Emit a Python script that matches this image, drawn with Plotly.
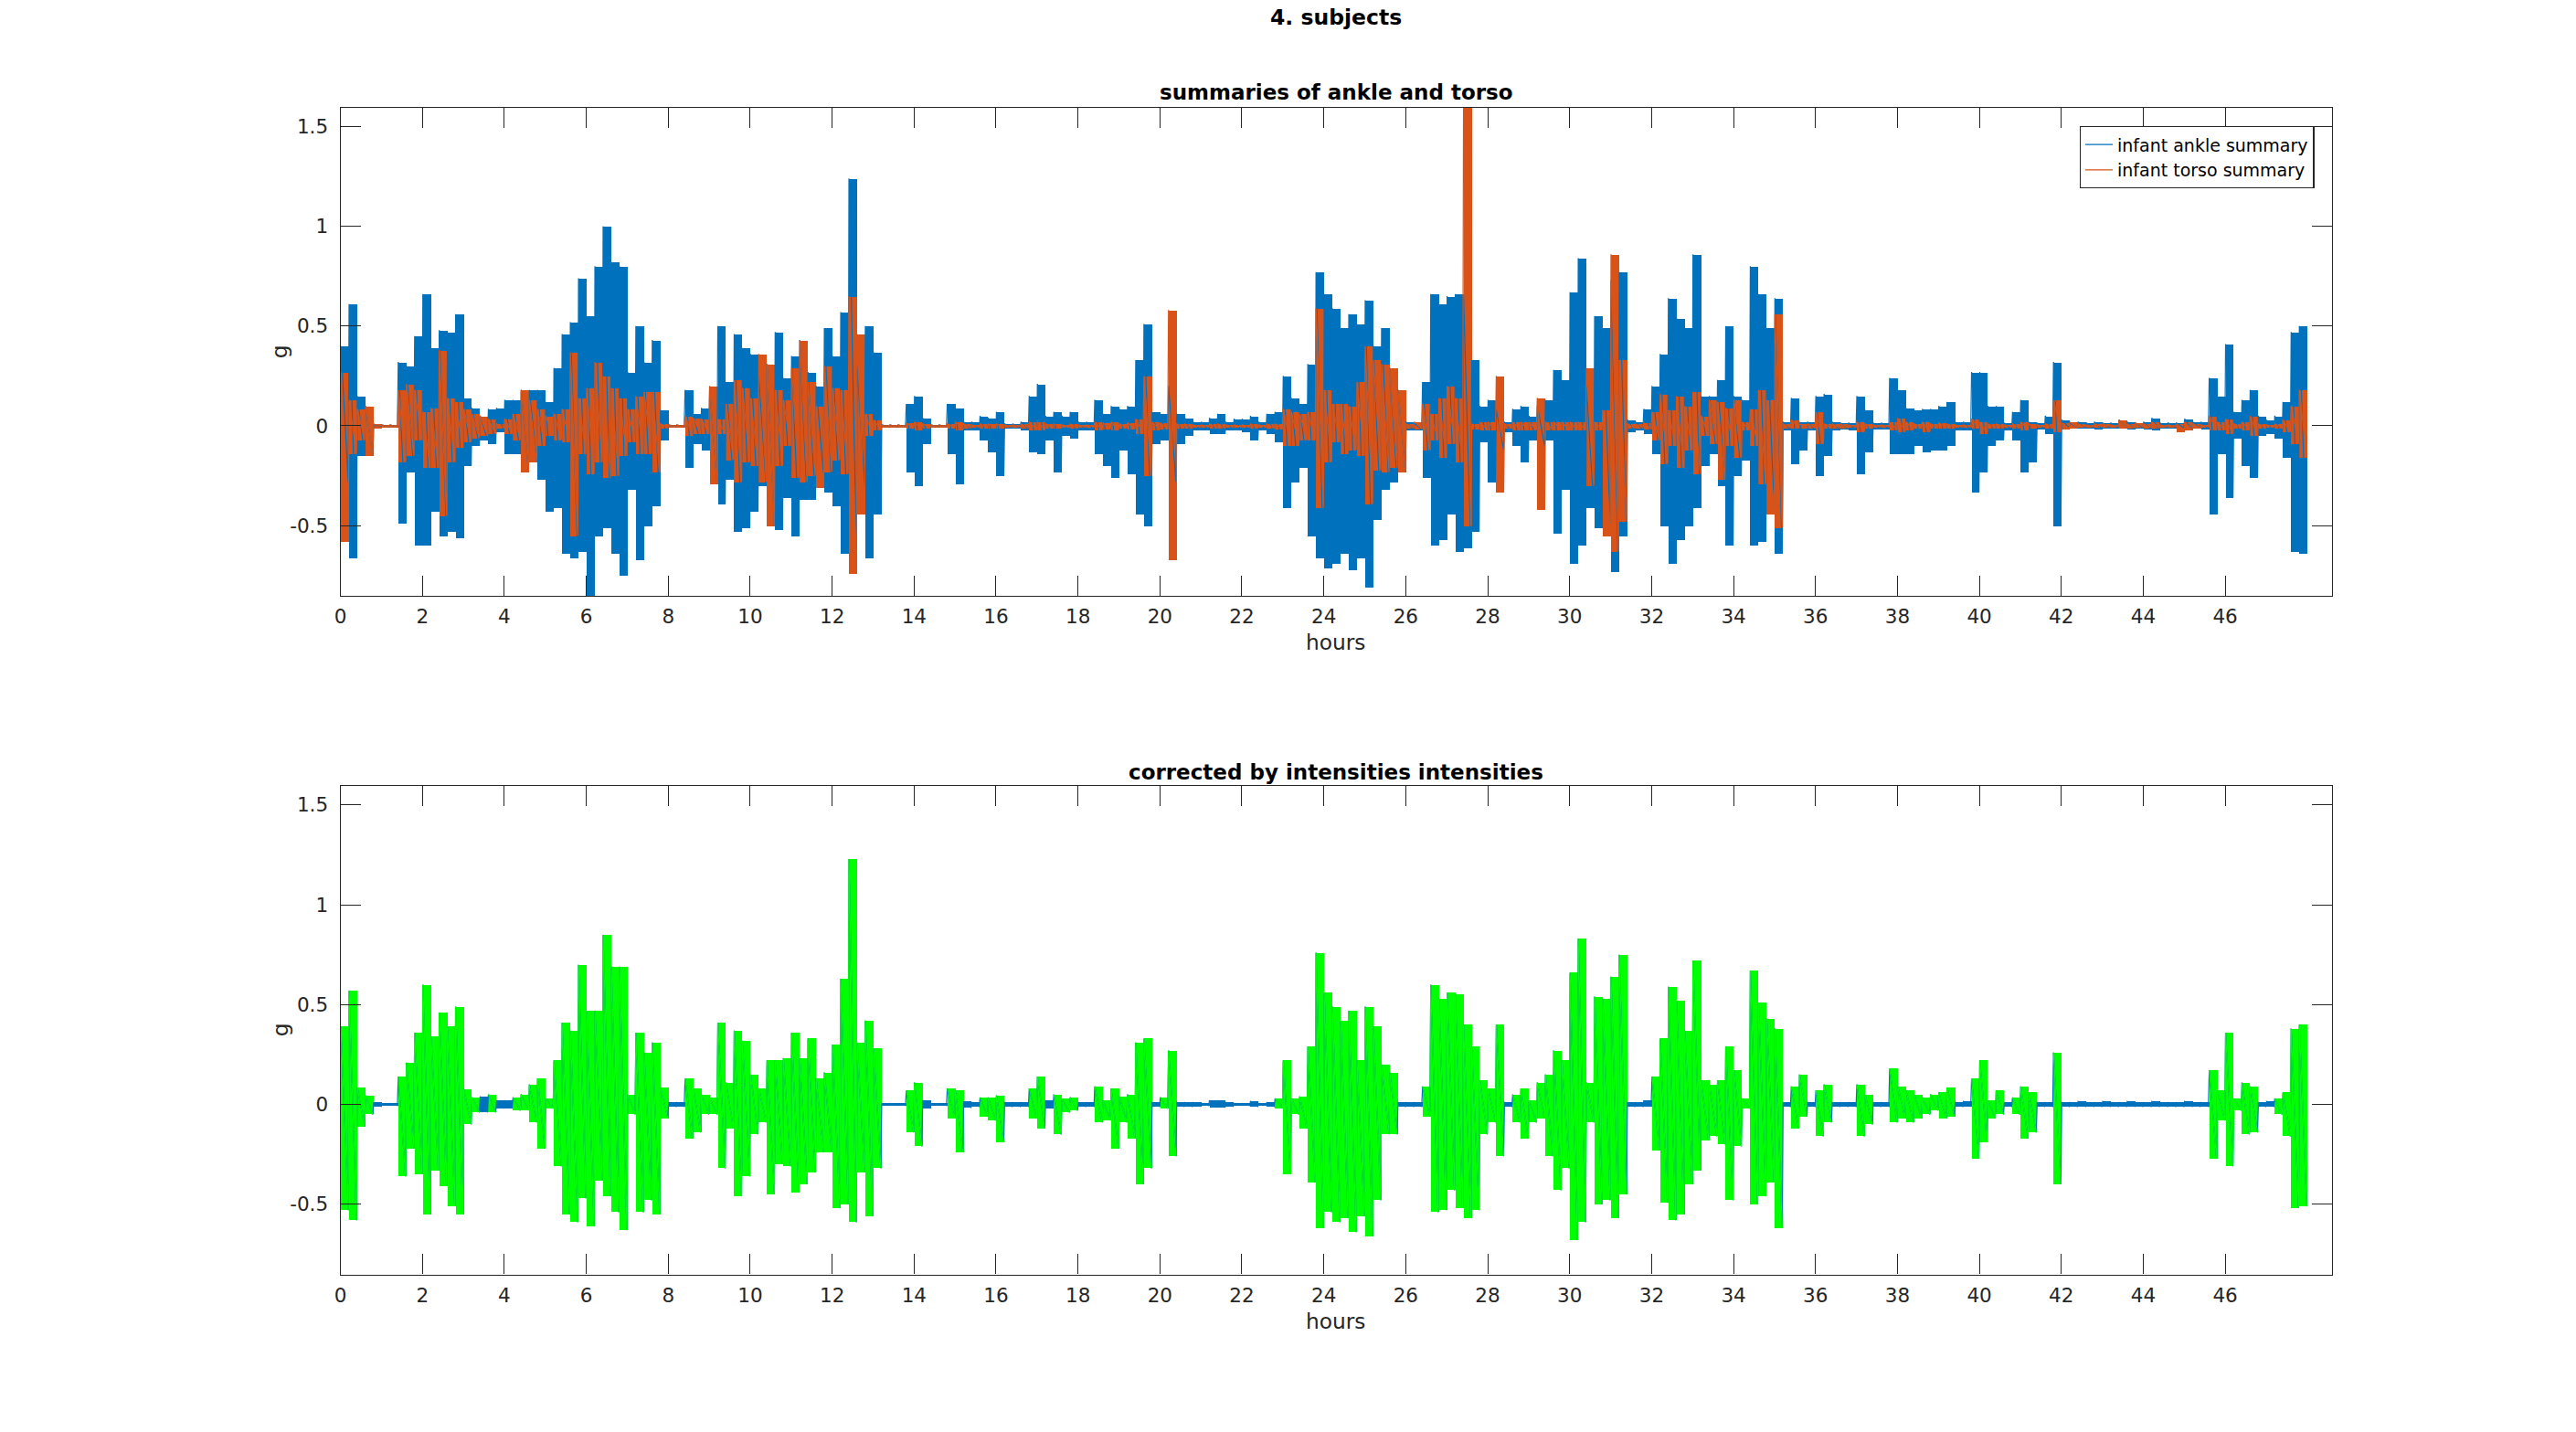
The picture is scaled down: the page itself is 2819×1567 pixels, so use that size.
from plotly import graph_objs as go
import numpy as np

# time bins of 0.2 h, each bin gives the highest and lowest value seen in it
BIN = 0.2
hours_start = np.round(np.arange(240) * BIN, 2)

ankle_hi = [
    0.40, 0.61, 0.15, 0.10, 0.005, 0.005, 0.005, 0.32, 0.30, 0.45,
    0.66, 0.39, 0.48, 0.47, 0.56, 0.14, 0.09, 0.05, 0.085, 0.09,
    0.13, 0.13, 0.18, 0.18, 0.18, 0.12, 0.29, 0.46, 0.52, 0.74,
    0.55, 0.80, 1.00, 0.82, 0.80, 0.27, 0.50, 0.32, 0.43, 0.08,
    0.005, 0.005, 0.18, 0.06, 0.09, 0.19, 0.50, 0.22, 0.46, 0.39,
    0.36, 0.25, 0.31, 0.47, 0.24, 0.35, 0.43, 0.27, 0.20, 0.49,
    0.35, 0.57, 1.24, 0.30, 0.50, 0.37, 0.005, 0.005, 0.005, 0.11,
    0.15, 0.04, 0.005, 0.005, 0.11, 0.09, 0.02, 0.02, 0.05, 0.04,
    0.07, 0.01, 0.01, 0.02, 0.15, 0.21, 0.05, 0.07, 0.05, 0.07,
    0.02, 0.02, 0.13, 0.06, 0.10, 0.085, 0.10, 0.33, 0.51, 0.07,
    0.06, 0.20, 0.06, 0.04, 0.02, 0.02, 0.04, 0.06, 0.02, 0.035,
    0.035, 0.05, 0.02, 0.06, 0.07, 0.25, 0.14, 0.11, 0.31, 0.77,
    0.66, 0.59, 0.49, 0.56, 0.51, 0.63, 0.40, 0.49, 0.29, 0.18,
    0.02, 0.015, 0.22, 0.66, 0.61, 0.65, 0.66, 0.65, 0.33, 0.10,
    0.13, 0.08, 0.02, 0.085, 0.10, 0.05, 0.10, 0.13, 0.28, 0.23,
    0.67, 0.84, 0.20, 0.55, 0.49, 0.73, 0.77, 0.03, 0.02, 0.085,
    0.20, 0.36, 0.64, 0.54, 0.49, 0.86, 0.15, 0.15, 0.23, 0.50,
    0.15, 0.13, 0.80, 0.66, 0.49, 0.64, 0.02, 0.14, 0.02, 0.02,
    0.15, 0.16, 0.02, 0.015, 0.015, 0.15, 0.08, 0.015, 0.015, 0.24,
    0.18, 0.09, 0.08, 0.085, 0.085, 0.10, 0.12, 0.02, 0.02, 0.27,
    0.27, 0.10, 0.10, 0.015, 0.07, 0.13, 0.02, 0.015, 0.05, 0.32,
    0.03, 0.015, 0.02, 0.015, 0.02, 0.015, 0.015, 0.03, 0.02, 0.015,
    0.02, 0.04, 0.015, 0.015, 0.015, 0.035, 0.02, 0.02, 0.24, 0.15,
    0.41, 0.07, 0.13, 0.18, 0.05, 0.03, 0.05, 0.12, 0.47, 0.50,
]
ankle_lo = [
    -0.28, -0.66, -0.15, -0.15, -0.005, -0.005, -0.005, -0.49, -0.23, -0.60,
    -0.60, -0.43, -0.55, -0.53, -0.56, -0.20, -0.10, -0.07, -0.09, -0.03,
    -0.14, -0.14, -0.23, -0.18, -0.27, -0.43, -0.41, -0.64, -0.66, -0.63,
    -0.86, -0.55, -0.51, -0.64, -0.75, -0.32, -0.67, -0.50, -0.40, -0.07,
    -0.005, -0.005, -0.21, -0.09, -0.12, -0.29, -0.39, -0.27, -0.53, -0.51,
    -0.43, -0.30, -0.50, -0.52, -0.36, -0.55, -0.37, -0.37, -0.25, -0.33,
    -0.40, -0.64, -0.61, -0.30, -0.66, -0.44, -0.005, -0.005, -0.005, -0.23,
    -0.30, -0.09, -0.005, -0.005, -0.14, -0.29, -0.02, -0.02, -0.07, -0.13,
    -0.25, -0.01, -0.01, -0.02, -0.13, -0.14, -0.07, -0.23, -0.05, -0.06,
    -0.02, -0.02, -0.14, -0.20, -0.26, -0.12, -0.24, -0.44, -0.50, -0.09,
    -0.07, -0.28, -0.09, -0.05, -0.02, -0.02, -0.04, -0.04, -0.02, -0.02,
    -0.03, -0.07, -0.02, -0.04, -0.08, -0.41, -0.28, -0.21, -0.55, -0.66,
    -0.71, -0.69, -0.64, -0.72, -0.66, -0.81, -0.47, -0.32, -0.28, -0.23,
    -0.02, -0.02, -0.26, -0.60, -0.57, -0.44, -0.63, -0.61, -0.53, -0.08,
    -0.28, -0.12, -0.03, -0.10, -0.18, -0.07, -0.10, -0.07, -0.54, -0.32,
    -0.69, -0.60, -0.41, -0.51, -0.49, -0.73, -0.55, -0.03, -0.02, -0.04,
    -0.14, -0.50, -0.69, -0.57, -0.50, -0.41, -0.20, -0.14, -0.30, -0.60,
    -0.25, -0.17, -0.60, -0.58, -0.41, -0.64, -0.02, -0.19, -0.12, -0.02,
    -0.25, -0.15, -0.02, -0.015, -0.02, -0.24, -0.13, -0.015, -0.015, -0.14,
    -0.14, -0.14, -0.10, -0.13, -0.12, -0.12, -0.10, -0.02, -0.02, -0.33,
    -0.23, -0.10, -0.07, -0.02, -0.07, -0.23, -0.18, -0.015, -0.04, -0.50,
    -0.01, -0.01, -0.01, -0.01, -0.015, -0.01, -0.01, -0.01, -0.015, -0.01,
    -0.015, -0.02, -0.01, -0.01, -0.01, -0.02, -0.01, -0.015, -0.44, -0.14,
    -0.36, -0.06, -0.20, -0.26, -0.05, -0.04, -0.06, -0.16, -0.63, -0.64,
]

torso_hi = [
    0.27, 0.13, 0.085, 0.10, 0.01, 0.005, 0.005, 0.18, 0.21, 0.18,
    0.07, 0.09, 0.38, 0.14, 0.12, 0.085, 0.06, 0.05, 0.035, 0.01,
    0.035, 0.06, 0.18, 0.13, 0.085, 0.05, 0.06, 0.085, 0.37, 0.14,
    0.19, 0.32, 0.25, 0.19, 0.14, 0.085, 0.15, 0.17, 0.17, 0.01,
    0.005, 0.005, 0.05, 0.04, 0.035, 0.20, 0.035, 0.11, 0.23, 0.19,
    0.14, 0.36, 0.31, 0.18, 0.13, 0.29, 0.43, 0.22, 0.10, 0.30,
    0.19, 0.18, 0.65, 0.46, 0.06, 0.03, 0.005, 0.005, 0.005, 0.015,
    0.02, 0.01, 0.005, 0.005, 0.01, 0.02, 0.01, 0.005, 0.01, 0.01,
    0.01, 0.005, 0.005, 0.01, 0.02, 0.02, 0.01, 0.01, 0.005, 0.01,
    0.005, 0.005, 0.02, 0.015, 0.02, 0.01, 0.015, 0.035, 0.25, 0.02,
    0.015, 0.58, 0.01, 0.01, 0.005, 0.005, 0.01, 0.01, 0.005, 0.005,
    0.005, 0.01, 0.005, 0.01, 0.01, 0.085, 0.07, 0.06, 0.07, 0.59,
    0.18, 0.11, 0.11, 0.10, 0.22, 0.40, 0.33, 0.31, 0.29, 0.18,
    0.01, 0.02, 0.11, 0.06, 0.14, 0.20, 0.14, 1.595, 0.01, 0.02,
    0.02, 0.25, 0.01, 0.02, 0.02, 0.02, 0.14, 0.02, 0.02, 0.02,
    0.02, 0.02, 0.29, 0.02, 0.08, 0.86, 0.33, 0.01, 0.01, 0.015,
    0.07, 0.16, 0.08, 0.15, 0.10, 0.17, 0.05, 0.13, 0.12, 0.09,
    0.13, 0.02, 0.085, 0.18, 0.13, 0.56, 0.01, 0.03, 0.01, 0.01,
    0.07, 0.01, 0.01, 0.01, 0.005, 0.02, 0.01, 0.005, 0.005, 0.02,
    0.04, 0.02, 0.01, 0.02, 0.01, 0.015, 0.01, 0.005, 0.005, 0.035,
    0.02, 0.01, 0.01, 0.005, 0.01, 0.02, 0.01, 0.005, 0.01, 0.13,
    0.015, 0.02, 0.01, 0.005, 0.01, 0.01, 0.005, 0.03, 0.01, 0.015,
    0.01, 0.02, 0.005, 0.005, 0.01, 0.02, 0.01, 0.005, 0.05, 0.02,
    0.035, 0.01, 0.02, 0.05, 0.01, 0.005, 0.01, 0.03, 0.10, 0.18,
]
torso_lo = [
    -0.58, -0.14, -0.07, -0.15, -0.01, -0.005, -0.005, -0.18, -0.15, -0.07,
    -0.21, -0.21, -0.45, -0.18, -0.11, -0.08, -0.06, -0.05, -0.04, -0.01,
    -0.04, -0.07, -0.23, -0.18, -0.10, -0.05, -0.07, -0.08, -0.55, -0.14,
    -0.24, -0.18, -0.26, -0.25, -0.15, -0.08, -0.14, -0.14, -0.23, -0.01,
    -0.005, -0.005, -0.05, -0.04, -0.04, -0.29, -0.04, -0.17, -0.28, -0.18,
    -0.20, -0.28, -0.50, -0.20, -0.10, -0.26, -0.28, -0.25, -0.31, -0.23,
    -0.17, -0.24, -0.74, -0.44, -0.05, -0.02, -0.005, -0.005, -0.005, -0.01,
    -0.02, -0.01, -0.005, -0.005, -0.01, -0.02, -0.01, -0.005, -0.01, -0.01,
    -0.01, -0.005, -0.005, -0.01, -0.02, -0.02, -0.01, -0.01, -0.005, -0.01,
    -0.005, -0.005, -0.02, -0.015, -0.02, -0.01, -0.015, -0.04, -0.25, -0.02,
    -0.015, -0.67, -0.01, -0.01, -0.005, -0.005, -0.01, -0.01, -0.005, -0.005,
    -0.005, -0.01, -0.005, -0.01, -0.015, -0.10, -0.10, -0.07, -0.07, -0.41,
    -0.18, -0.08, -0.14, -0.12, -0.15, -0.39, -0.22, -0.23, -0.21, -0.23,
    -0.01, -0.015, -0.12, -0.07, -0.16, -0.09, -0.18, -0.50, -0.015, -0.02,
    -0.02, -0.33, -0.01, -0.02, -0.02, -0.02, -0.42, -0.02, -0.02, -0.02,
    -0.02, -0.02, -0.30, -0.02, -0.55, -0.63, -0.48, -0.01, -0.01, -0.015,
    -0.07, -0.19, -0.10, -0.21, -0.12, -0.24, -0.05, -0.09, -0.27, -0.10,
    -0.16, -0.02, -0.10, -0.29, -0.44, -0.51, -0.01, -0.01, -0.01, -0.01,
    -0.09, -0.01, -0.01, -0.01, -0.005, -0.03, -0.01, -0.005, -0.005, -0.02,
    -0.03, -0.02, -0.01, -0.03, -0.01, -0.01, -0.01, -0.005, -0.005, -0.01,
    -0.04, -0.01, -0.01, -0.005, -0.01, -0.02, -0.01, -0.005, -0.01, -0.03,
    -0.015, -0.01, -0.005, -0.005, -0.005, -0.005, -0.005, -0.01, -0.01, -0.005,
    -0.01, -0.01, -0.005, -0.005, -0.03, -0.02, -0.01, -0.005, -0.02, -0.02,
    -0.04, -0.01, -0.02, -0.05, -0.01, -0.005, -0.01, -0.03, -0.09, -0.16,
]

corr_hi = [
    0.39, 0.57, 0.085, 0.045, 0.01, 0.005, 0.005, 0.14, 0.21, 0.36,
    0.60, 0.34, 0.46, 0.39, 0.49, 0.077, 0.035, 0.04, 0.05, 0.02,
    0.02, 0.035, 0.05, 0.10, 0.13, 0.03, 0.22, 0.41, 0.37, 0.70,
    0.47, 0.47, 0.85, 0.69, 0.69, 0.05, 0.36, 0.26, 0.31, 0.085,
    0.01, 0.01, 0.13, 0.08, 0.05, 0.035, 0.41, 0.11, 0.37, 0.32,
    0.15, 0.08, 0.22, 0.22, 0.23, 0.36, 0.23, 0.33, 0.13, 0.16,
    0.30, 0.63, 1.23, 0.31, 0.42, 0.28, 0.005, 0.005, 0.005, 0.07,
    0.11, 0.02, 0.005, 0.005, 0.08, 0.07, 0.015, 0.01, 0.035, 0.035,
    0.045, 0.01, 0.01, 0.01, 0.08, 0.14, 0.02, 0.05, 0.03, 0.035,
    0.01, 0.01, 0.09, 0.02, 0.08, 0.04, 0.05, 0.31, 0.33, 0.01,
    0.035, 0.27, 0.01, 0.01, 0.01, 0.005, 0.02, 0.02, 0.01, 0.005,
    0.005, 0.015, 0.005, 0.01, 0.03, 0.22, 0.03, 0.04, 0.29, 0.76,
    0.56, 0.49, 0.42, 0.47, 0.22, 0.49, 0.39, 0.20, 0.16, 0.01,
    0.01, 0.01, 0.09, 0.60, 0.53, 0.56, 0.55, 0.40, 0.29, 0.12,
    0.08, 0.40, 0.01, 0.05, 0.08, 0.02, 0.11, 0.15, 0.27, 0.22,
    0.66, 0.83, 0.11, 0.54, 0.53, 0.64, 0.75, 0.01, 0.01, 0.02,
    0.14, 0.33, 0.59, 0.52, 0.37, 0.72, 0.12, 0.10, 0.12, 0.29,
    0.17, 0.03, 0.67, 0.51, 0.43, 0.38, 0.01, 0.09, 0.15, 0.01,
    0.07, 0.10, 0.01, 0.01, 0.01, 0.10, 0.05, 0.01, 0.01, 0.18,
    0.09, 0.07, 0.05, 0.035, 0.05, 0.06, 0.085, 0.01, 0.015, 0.13,
    0.22, 0.02, 0.07, 0.01, 0.035, 0.09, 0.06, 0.01, 0.01, 0.26,
    0.01, 0.01, 0.015, 0.01, 0.01, 0.015, 0.01, 0.01, 0.015, 0.01,
    0.01, 0.015, 0.01, 0.01, 0.01, 0.015, 0.01, 0.01, 0.17, 0.07,
    0.36, 0.03, 0.11, 0.09, 0.01, 0.015, 0.03, 0.06, 0.38, 0.40,
]
corr_lo = [
    -0.53, -0.58, -0.11, -0.05, -0.01, -0.005, -0.005, -0.36, -0.22, -0.35,
    -0.55, -0.33, -0.41, -0.51, -0.55, -0.10, -0.04, -0.04, -0.04, -0.02,
    -0.02, -0.03, -0.03, -0.09, -0.22, -0.02, -0.31, -0.55, -0.59, -0.47,
    -0.61, -0.38, -0.46, -0.54, -0.63, -0.05, -0.54, -0.48, -0.55, -0.07,
    -0.01, -0.01, -0.17, -0.14, -0.05, -0.05, -0.32, -0.12, -0.46, -0.36,
    -0.15, -0.09, -0.45, -0.30, -0.31, -0.44, -0.40, -0.34, -0.24, -0.24,
    -0.52, -0.50, -0.59, -0.34, -0.56, -0.32, -0.005, -0.005, -0.005, -0.14,
    -0.21, -0.02, -0.005, -0.005, -0.07, -0.24, -0.015, -0.01, -0.06, -0.08,
    -0.19, -0.01, -0.01, -0.01, -0.07, -0.12, -0.02, -0.15, -0.04, -0.03,
    -0.01, -0.01, -0.09, -0.08, -0.22, -0.09, -0.17, -0.40, -0.32, -0.01,
    -0.02, -0.26, -0.01, -0.01, -0.01, -0.005, -0.015, -0.015, -0.01, -0.005,
    -0.005, -0.01, -0.005, -0.01, -0.02, -0.35, -0.05, -0.12, -0.39, -0.62,
    -0.54, -0.59, -0.57, -0.64, -0.56, -0.66, -0.48, -0.15, -0.15, -0.01,
    -0.01, -0.01, -0.06, -0.54, -0.53, -0.43, -0.52, -0.57, -0.53, -0.15,
    -0.09, -0.26, -0.01, -0.09, -0.17, -0.09, -0.07, -0.26, -0.43, -0.32,
    -0.68, -0.59, -0.09, -0.50, -0.48, -0.57, -0.45, -0.01, -0.01, -0.01,
    -0.23, -0.49, -0.58, -0.55, -0.40, -0.33, -0.18, -0.16, -0.20, -0.48,
    -0.21, -0.02, -0.50, -0.46, -0.39, -0.62, -0.01, -0.12, -0.06, -0.01,
    -0.16, -0.09, -0.01, -0.01, -0.01, -0.16, -0.10, -0.01, -0.01, -0.09,
    -0.07, -0.09, -0.07, -0.05, -0.03, -0.07, -0.06, -0.01, -0.01, -0.27,
    -0.19, -0.07, -0.05, -0.01, -0.05, -0.17, -0.14, -0.01, -0.01, -0.40,
    -0.01, -0.01, -0.01, -0.01, -0.01, -0.01, -0.01, -0.01, -0.01, -0.01,
    -0.01, -0.01, -0.01, -0.01, -0.01, -0.01, -0.01, -0.01, -0.27, -0.08,
    -0.31, -0.03, -0.15, -0.14, -0.01, -0.01, -0.05, -0.16, -0.52, -0.51,
]
# 1 = bin flagged as activity (drawn green), 0 = left as plain signal
corr_active = [
    1, 1, 1, 1, 0, 0, 0, 1, 1, 1,
    1, 1, 1, 1, 1, 1, 1, 0, 1, 0,
    0, 1, 1, 1, 1, 1, 1, 1, 1, 1,
    1, 1, 1, 1, 1, 1, 1, 1, 1, 1,
    0, 0, 1, 1, 1, 1, 1, 1, 1, 1,
    1, 1, 1, 1, 1, 1, 1, 1, 1, 1,
    1, 1, 1, 1, 1, 1, 0, 0, 0, 1,
    1, 0, 0, 0, 1, 1, 0, 0, 1, 1,
    1, 0, 0, 0, 1, 1, 0, 1, 1, 1,
    0, 0, 1, 1, 1, 1, 1, 1, 1, 0,
    1, 1, 0, 0, 0, 0, 0, 0, 0, 0,
    0, 0, 0, 0, 1, 1, 1, 1, 1, 1,
    1, 1, 1, 1, 1, 1, 1, 1, 1, 0,
    0, 0, 1, 1, 1, 1, 1, 1, 1, 1,
    1, 1, 0, 1, 1, 1, 1, 1, 1, 1,
    1, 1, 1, 1, 1, 1, 1, 0, 0, 0,
    1, 1, 1, 1, 1, 1, 1, 1, 1, 1,
    1, 1, 1, 1, 1, 1, 0, 1, 1, 0,
    1, 1, 0, 0, 0, 1, 1, 0, 0, 1,
    1, 1, 1, 1, 1, 1, 1, 0, 0, 1,
    1, 1, 1, 0, 1, 1, 1, 0, 0, 1,
    0, 0, 0, 0, 0, 0, 0, 0, 0, 0,
    0, 0, 0, 0, 0, 0, 0, 0, 1, 1,
    1, 1, 1, 1, 0, 0, 1, 1, 1, 1,
]

BLUE = "#0072BD"
ORANGE = "#D95319"
GREEN = "#00FF00"
AX = "#262626"
FONT = "DejaVu Sans"
W, H = 2819, 1567


def fx(p):
    return p / W


def fy(p):
    return 1 - p / H


def zigzag(hi, lo, mask=None):
    """max near start of bin, min near its end"""
    xs, ys = [], []
    for i, t in enumerate(hours_start):
        if mask is not None and not mask[i]:
            xs.append(None)
            ys.append(None)
            continue
        xs += [t + 0.01, t + BIN - 0.01]
        ys += [hi[i], lo[i]]
    return xs, ys


def span_bars(hi, lo, color, xa, ya, mask=None):
    """one vertical bar per bin from its min to its max (min/max decimation)"""
    keep = [i for i in range(len(hi)) if mask is None or mask[i]]
    return go.Bar(
        x=[hours_start[i] + BIN / 2 for i in keep],
        y=[hi[i] - lo[i] for i in keep],
        base=[lo[i] for i in keep],
        width=BIN,
        marker=dict(color=color, line=dict(width=0)),
        showlegend=False, hoverinfo="skip", xaxis=xa, yaxis=ya,
    )


def signal(hi, lo, color, xa, ya, name=None, mask=None):
    xs, ys = zigzag(hi, lo, mask)
    return [
        span_bars(hi, lo, color, xa, ya, mask),
        go.Scatter(x=xs, y=ys, mode="lines", name=name, showlegend=name is not None,
                   line=dict(color=color, width=1.2), xaxis=xa, yaxis=ya),
    ]


fig = go.Figure()
fig.add_traces(signal(ankle_hi, ankle_lo, BLUE, "x", "y", "infant ankle summary"))
fig.add_traces(signal(torso_hi, torso_lo, ORANGE, "x", "y", "infant torso summary"))
fig.add_traces(signal(corr_hi, corr_lo, BLUE, "x2", "y2"))
fig.add_traces(signal(corr_hi, corr_lo, GREEN, "x2", "y2", mask=corr_active))

xticks = list(range(0, 47, 2))
yticks = [-0.5, 0, 0.5, 1, 1.5]
yticktext = ["-0.5", "0", "0.5", "1", "1.5"]

common_x = dict(range=[0, 48.6], tickvals=xticks, ticks="inside", ticklen=22, tickwidth=1.3,
                tickcolor=AX, showline=True, linecolor=AX, linewidth=1.3, mirror="allticks",
                showgrid=False, zeroline=False, tickfont=dict(family=FONT, size=21.5, color=AX),
                ticklabelstandoff=3)
common_y = dict(range=[-0.852, 1.596], tickvals=yticks, ticktext=yticktext, ticks="inside",
                ticklen=22, tickwidth=1.3, tickcolor=AX, showline=True, linecolor=AX,
                linewidth=1.3, mirror="allticks", showgrid=False, zeroline=False,
                tickfont=dict(family=FONT, size=21.5, color=AX), ticklabelstandoff=8)

fig.update_layout(
    width=W, height=H,
    margin=dict(l=0, r=0, t=0, b=0),
    paper_bgcolor="white", plot_bgcolor="white",
    font=dict(family=FONT, color=AX),
    barmode="overlay", bargap=0,
    xaxis=dict(domain=[fx(366.5), fx(2551)], anchor="y", **common_x),
    yaxis=dict(domain=[fy(652), fy(117.5)], anchor="x", **common_y),
    xaxis2=dict(domain=[fx(366.5), fx(2551)], anchor="y2", **common_x),
    yaxis2=dict(domain=[fy(1394.6), fy(860)], anchor="x2", **common_y),
    showlegend=True,
    legend=dict(x=fx(2532), y=fy(138), xanchor="right", yanchor="top",
                bordercolor=AX, borderwidth=1.3, bgcolor="white",
                font=dict(family=FONT, size=19, color="black"),
                tracegroupgap=0, itemwidth=30),
)

annotations = [
    ("<b>4. subjects</b>", 1459, 19, 23.5, "black", 0),
    ("<b>summaries of ankle and torso</b>", 1459, 101, 23, "black", 0),
    ("<b>corrected by intensities intensities</b>", 1459, 845, 23, "black", 0),
    ("hours", 1459, 702, 23.3, AX, 0),
    ("hours", 1459, 1445, 23.3, AX, 0),
    ("g", 300, 385, 23.3, AX, -90),
    ("g", 300, 1127, 23.3, AX, -90),
]
for text, x, y, size, color, angle in annotations:
    fig.add_annotation(text=text, x=fx(x), y=fy(y), xref="paper", yref="paper",
                       xanchor="center", yanchor="middle", showarrow=False,
                       textangle=angle, font=dict(family=FONT, size=size, color=color))

# drop the page's default 8px body margin so the figure sits at the window corner
fig.write_html("out.html", config={"displayModeBar": False},
               post_script="document.body.style.margin='0';")
